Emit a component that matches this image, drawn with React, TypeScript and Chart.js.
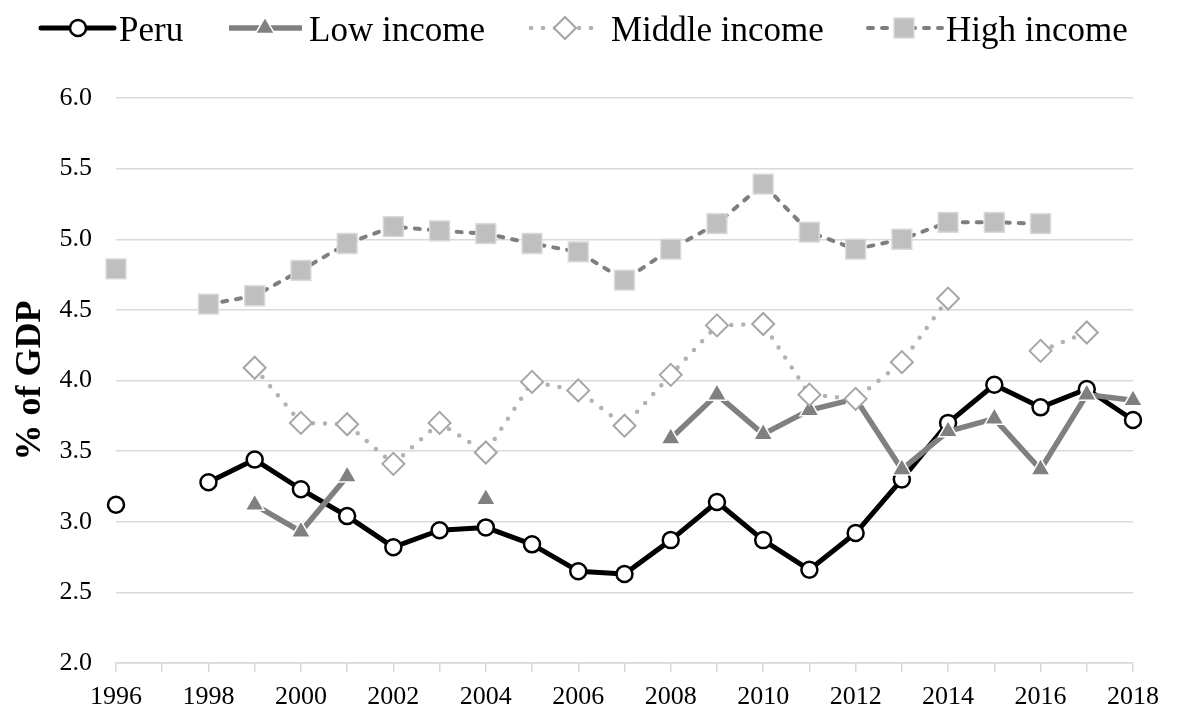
import React, { useEffect, useRef } from 'react';
import { Chart, registerables } from 'chart.js';
import { drawPoint } from 'chart.js/helpers';

Chart.register(...registerables);

const years = ['1996','1997','1998','1999','2000','2001','2002','2003','2004','2005','2006','2007','2008','2009','2010','2011','2012','2013','2014','2015','2016','2017','2018'];
const peru = [3.12, null, 3.28, 3.44, 3.23, 3.04, 2.82, 2.94, 2.96, 2.84, 2.65, 2.63, 2.87, 3.14, 2.87, 2.66, 2.92, 3.30, 3.70, 3.97, 3.81, 3.94, 3.72];
const lowIncome = [null, null, null, 3.12, 2.93, 3.32, null, null, 3.16, null, null, null, 3.59, 3.90, 3.62, 3.79, 3.87, 3.37, 3.64, 3.73, 3.37, 3.90, 3.86];
const middleIncome = [null, null, null, 4.09, 3.70, 3.69, 3.41, 3.70, 3.49, 3.99, 3.93, 3.68, 4.04, 4.39, 4.40, 3.90, 3.87, 4.13, 4.58, null, 4.21, 4.34, null];
const highIncome = [4.79, null, 4.54, 4.60, 4.78, 4.97, 5.09, 5.06, 5.04, 4.97, 4.91, 4.71, 4.93, 5.11, 5.39, 5.05, 4.93, 5.00, 5.12, 5.12, 5.11, null, null];
const seriesNames = ['Peru', 'Low income', 'Middle income', 'High income'];
const yTicks = { min: 2.0, max: 6.0, step: 0.5 };

const FONT = "'Liberation Serif', 'Times New Roman', serif";

// legend swatch geometry: line start, line end, marker x, text x
const legendLayout = [
  { x0: 41, x1: 114, mx: 78, tx: 119 },
  { x0: 229, x1: 302, mx: 265, tx: 309 },
  { x0: 531, x1: 598, mx: 565, tx: 611 },
  { x0: 868, x1: 942, mx: 904, tx: 946 },
];

const legendPlugin = {
  id: 'customLegend',
  afterDraw(chart: any) {
    const ctx = chart.ctx;
    const y = 28;
    chart.data.datasets.forEach((ds: any, i: number) => {
      const L = legendLayout[i];
      ctx.save();
      ctx.strokeStyle = ds.borderColor;
      ctx.lineWidth = ds.borderWidth;
      ctx.lineCap = ds.borderCapStyle || 'butt';
      ctx.setLineDash(ds.borderDash || []);
      ctx.beginPath();
      ctx.moveTo(L.x0, y);
      ctx.lineTo(L.x1, y);
      ctx.stroke();
      ctx.setLineDash([]);
      ctx.fillStyle = ds.pointBackgroundColor;
      ctx.strokeStyle = ds.pointBorderColor;
      ctx.lineWidth = ds.pointBorderWidth;
      drawPoint(ctx, { pointStyle: ds.pointStyle, rotation: 0, radius: ds.pointRadius, borderWidth: ds.pointBorderWidth }, L.mx, y);
      ctx.fillStyle = '#000';
      ctx.font = `35px ${FONT}`;
      ctx.textBaseline = 'alphabetic';
      ctx.textAlign = 'left';
      ctx.fillText(ds.label, L.tx, 41);
      ctx.restore();
    });
  },
};

export default function App() {
  const ref = useRef<HTMLCanvasElement | null>(null);
  useEffect(() => {
    if (!ref.current) return;
    const chart = new Chart(ref.current, {
      type: 'line',
      data: {
        labels: years,
        datasets: [
          {
            label: seriesNames[0], data: peru, order: 4,
            borderColor: '#000000', borderWidth: 5, borderCapStyle: 'round', borderJoinStyle: 'round',
            pointStyle: 'circle', pointRadius: 8, pointHoverRadius: 8,
            pointBackgroundColor: '#ffffff', pointBorderColor: '#000000', pointBorderWidth: 2.5,
          },
          {
            label: seriesNames[1], data: lowIncome, order: 3,
            borderColor: '#808080', borderWidth: 5.5, borderCapStyle: 'butt', borderJoinStyle: 'round',
            pointStyle: 'triangle', pointRadius: 11, pointHoverRadius: 11,
            pointBackgroundColor: '#808080', pointBorderColor: '#ffffff', pointBorderWidth: 1.5,
          },
          {
            label: seriesNames[2], data: middleIncome, order: 2,
            borderColor: '#b2b2b2', borderWidth: 4.5, borderDash: [0, 12], borderCapStyle: 'round',
            pointStyle: 'rectRot', pointRadius: 11, pointHoverRadius: 11,
            pointBackgroundColor: '#ffffff', pointBorderColor: '#a6a6a6', pointBorderWidth: 2,
          },
          {
            label: seriesNames[3], data: highIncome, order: 1,
            borderColor: '#7f7f7f', borderWidth: 4, borderDash: [5, 9], borderCapStyle: 'round',
            pointStyle: 'rect', pointRadius: 14, pointHoverRadius: 14,
            pointBackgroundColor: '#bfbfbf', pointBorderColor: '#d9d9d9', pointBorderWidth: 1.5,
          },
        ],
      } as any,
      options: {
        animation: false,
        responsive: true,
        maintainAspectRatio: false,
        layout: { padding: { top: 98, right: 45, left: 0, bottom: 0 } },
        plugins: { legend: { display: false }, tooltip: { enabled: false } },
        elements: { line: { tension: 0 } },
        scales: {
          x: {
            grid: { drawOnChartArea: false, drawTicks: true, tickLength: 9, color: '#d9d9d9', lineWidth: 1.5 },
            border: { display: true, color: '#d9d9d9', width: 1.5 },
            ticks: {
              autoSkip: false, maxRotation: 0, padding: 10, color: '#000',
              font: { family: FONT, size: 26 },
              callback: (_v: any, i: number) => (i % 2 === 0 ? years[i] : ''),
            },
            afterFit: (s: any) => { s.height = 51; },
          },
          y: {
            min: yTicks.min, max: yTicks.max,
            grid: { drawTicks: false, color: '#d9d9d9', lineWidth: 1.5 },
            border: { display: false },
            ticks: {
              stepSize: yTicks.step, padding: 24, color: '#000',
              font: { family: FONT, size: 26 },
              callback: (v: any) => Number(v).toFixed(1),
            },
            title: {
              display: true, text: '% of GDP', color: '#000',
              font: { family: FONT, size: 36, weight: 'bold' },
              padding: { top: 9, bottom: 0 },
            },
            afterFit: (s: any) => { s.width = 116; },
          },
        },
      } as any,
      plugins: [legendPlugin],
    });
    return () => chart.destroy();
  }, []);
  return (
    <div style={{ position: 'fixed', left: 0, top: 0, width: 1178, height: 714, background: '#fff' }}>
      <canvas ref={ref} />
    </div>
  );
}
